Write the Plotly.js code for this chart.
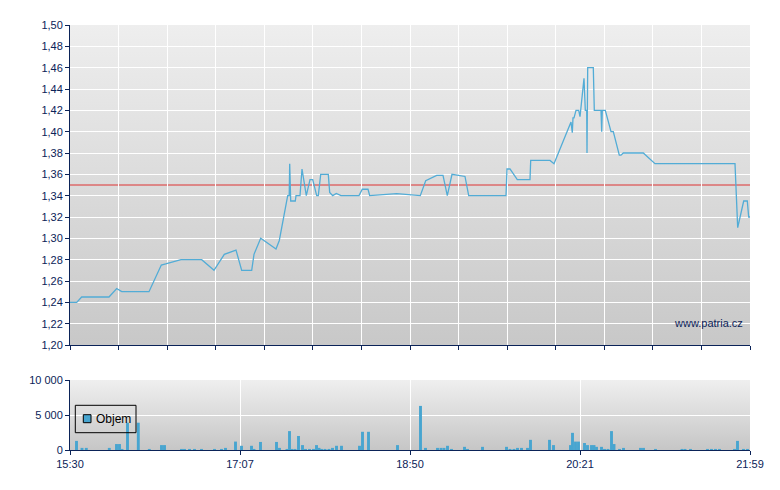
<!DOCTYPE html>
<html>
<head>
<meta charset="utf-8">
<script src="https://cdn.plot.ly/plotly-3.0.1.min.js"></script>
<style>html,body{margin:0;padding:0;background:#fff;}#chart{width:780px;height:490px;}</style>
</head>
<body>
<div id="chart"></div>
<script>
// Time-slot positions (session index, 0 = 15:30 ... 680 = 21:59)
const sessionLabels = ["15:30", "17:07", "18:50", "20:21", "21:59"];
const sessionLabelPos = [0, 170, 340, 510, 680];
const referencePrice = 1.35;
const legendName = "Objem";

const priceX = [0, 6.7, 11.7, 39, 46.7, 51.7, 79, 91.3, 95.7, 111, 131.7, 144, 154.3, 166, 171.7, 181.7, 184, 190.7, 206, 209.3,
  217.7, 219.2, 219.7, 220.7, 225.3, 226, 230, 232, 236.3, 240, 242.7, 246.7, 248.3, 250.7, 258.3, 259.7, 262.7, 266.3, 271,
  289, 292.3, 298, 299.7, 326.7, 350.3, 355.7, 366.7, 373, 377.3, 382, 395, 398.7, 436, 437, 440, 447.3, 460, 460.7, 480, 484,
  501, 502.3, 503, 504, 506, 508.7, 510, 514, 515.3, 516.7, 517, 517.7, 523.3, 524.3, 531, 531.7, 532.3, 535.3, 541, 543.3,
  549.3, 551, 553.3, 573.3, 585, 665, 667.7, 673.7, 677.3, 678.7, 680];
const priceY = [1.240, 1.240, 1.245, 1.245, 1.253, 1.250, 1.250, 1.275, 1.276, 1.280, 1.280, 1.270, 1.285, 1.289, 1.270, 1.270, 1.285, 1.300, 1.290, 1.298,
  1.340, 1.340, 1.370, 1.335, 1.335, 1.340, 1.340, 1.365, 1.340, 1.355, 1.355, 1.340, 1.340, 1.360, 1.360, 1.343, 1.340, 1.342, 1.340,
  1.340, 1.346, 1.346, 1.340, 1.342, 1.340, 1.354, 1.359, 1.359, 1.340, 1.360, 1.358, 1.340, 1.340, 1.365, 1.365, 1.355, 1.355, 1.373, 1.373, 1.370,
  1.409, 1.399, 1.413, 1.413, 1.420, 1.420, 1.414, 1.450, 1.420, 1.420, 1.380, 1.460, 1.460, 1.420, 1.420, 1.400, 1.420, 1.420, 1.400, 1.400,
  1.378, 1.378, 1.380, 1.380, 1.370, 1.370, 1.310, 1.335, 1.335, 1.320, 1.320];

const volumeX = [6.5, 12, 16.3, 39.3, 46.5, 49.5, 52, 57.5, 68.3, 79.3, 91.5, 94.5, 111.5, 114.5, 119.5, 124.5, 131.5, 144.5, 151.5, 155.5,
  165.5, 171.5, 181.5, 184, 190.5, 206.5, 209.5, 217, 219.5, 222, 225, 228.5, 232.5, 235.5, 239.5, 243.5, 246.5, 249, 251.5, 255,
  259, 262.5, 266.5, 271.5, 289.5, 292.5, 298.5, 327.5, 350.5, 355.5, 367.5, 371, 374, 377.5, 381.5, 394.5, 397.5, 412.5, 436.5, 440,
  444, 447.5, 451.5, 457.5, 460.5, 479.5, 483.5, 500.5, 502.5, 505.5, 508.5, 514.5, 517.5, 521.5, 524, 526.5, 531.5, 534.5, 538, 541.5,
  544, 549.5, 553.5, 570.5, 573.5, 585.5, 612, 615, 620.5, 637.5, 641.5, 645.5, 649.5, 664.5, 667.5, 673.5, 677.5];
const volumeY = [1300, 300, 300, 300, 850, 850, 150, 3900, 3900, 150, 700, 700, 150, 150, 150, 150, 150, 150, 150, 300,
  1200, 600, 600, 150, 1150, 1150, 300, 150, 2700, 150, 150, 2000, 700, 150, 150, 150, 700, 300, 150, 150,
  150, 300, 600, 600, 600, 2600, 2600, 700, 6300, 300, 300, 300, 300, 600, 150, 450, 150, 450, 450, 150,
  150, 300, 300, 300, 1450, 1450, 700, 700, 2450, 1200, 1200, 1000, 700, 700, 700, 450, 450, 150, 150, 2700,
  850, 150, 300, 300, 300, 150, 150, 150, 150, 150, 150, 150, 150, 150, 1300, 150, 150];

const navy = '#0b2358';
const lineBlue = '#52acd6';
const barBlue = '#47a5d0';
const fontFam = 'Arial, "Liberation Sans", sans-serif';

const topDomain = [105 / 425, 1];
const volDomain = [0, 70 / 425];

function grad(top, bottom) {
  const svg = '<svg xmlns="http://www.w3.org/2000/svg" width="10" height="100" preserveAspectRatio="none">' +
    '<defs><linearGradient id="g" x1="0" y1="0" x2="0" y2="1"><stop offset="0" stop-color="' + top + '"/>' +
    '<stop offset="1" stop-color="' + bottom + '"/></linearGradient></defs>' +
    '<rect width="10" height="100" fill="url(#g)"/></svg>';
  return 'data:image/svg+xml;utf8,' + encodeURIComponent(svg);
}

const traces = [
  {x: priceX, y: priceY, xaxis: 'x2', yaxis: 'y', type: 'scatter', mode: 'lines',
   line: {color: lineBlue, width: 1.3}, showlegend: false, hoverinfo: 'skip'},
  {x: volumeX, y: volumeY, xaxis: 'x', yaxis: 'y2', type: 'bar', width: 2.9, name: legendName,
   marker: {color: barBlue, line: {width: 0}}, showlegend: false, hoverinfo: 'skip'}
];

const axisCommon = {
  showline: true, linecolor: navy, linewidth: 1, ticks: 'outside', ticklen: 4, tickcolor: navy,
  gridcolor: '#ffffff', gridwidth: 1, zeroline: false, tickfont: {family: fontFam, size: 11, color: navy}, fixedrange: true
};

// legend box geometry (paper coordinates)
const lgX0 = 5.3 / 680, lgX1 = 66 / 680, lgY0 = 17.3 / 425, lgY1 = 44.7 / 425;
const sqX0 = 13.3 / 680, sqX1 = 21 / 680, sqY0 = 27.3 / 425, sqY1 = 35.3 / 425;

const layout = {
  width: 780, height: 490,
  margin: {l: 70, r: 30, t: 25, b: 40, pad: 0},
  paper_bgcolor: '#ffffff', plot_bgcolor: 'rgba(0,0,0,0)',
  separators: ', ',
  font: {family: fontFam, size: 11, color: navy},
  showlegend: false,
  xaxis: Object.assign({}, axisCommon, {domain: [0, 1], anchor: 'y2', range: [0, 680],
    tickmode: 'array', tickvals: sessionLabelPos, ticktext: sessionLabels}),
  xaxis2: Object.assign({}, axisCommon, {domain: [0, 1], anchor: 'y', range: [0, 680],
    tickmode: 'linear', tick0: 0, dtick: 680 / 14, showticklabels: false}),
  yaxis: Object.assign({}, axisCommon, {domain: topDomain, range: [1.2, 1.5], tickmode: 'linear', tick0: 1.2, dtick: 0.02,
    tickformat: '.2f'}),
  yaxis2: Object.assign({}, axisCommon, {domain: volDomain, range: [0, 10000], tickmode: 'array', tickvals: [0, 5000, 10000],
    tickformat: ',.0f'}),
  shapes: [
    {type: 'line', xref: 'x2', yref: 'y', x0: 0, x1: 680, y0: referencePrice, y1: referencePrice,
     line: {color: '#dd3333', width: 1}, layer: 'below'},
    {type: 'rect', xref: 'paper', yref: 'paper', x0: lgX0, x1: lgX1, y0: lgY0, y1: lgY1,
     line: {color: '#000000', width: 1}, fillcolor: 'rgba(0,0,0,0)', layer: 'above'},
    {type: 'rect', xref: 'paper', yref: 'paper', x0: sqX0, x1: sqX1, y0: sqY0, y1: sqY1,
     line: {color: '#000000', width: 1}, fillcolor: barBlue, layer: 'above'}
  ],
  images: [
    {source: grad('#eeeeee', '#c8c8c8'), xref: 'paper', yref: 'paper', x: 0, y: 1, sizex: 1, sizey: 1 - topDomain[0],
     xanchor: 'left', yanchor: 'top', sizing: 'stretch', layer: 'below'},
    {source: grad('#efefef', '#c6c6c6'), xref: 'paper', yref: 'paper', x: 0, y: volDomain[1], sizex: 1, sizey: volDomain[1],
     xanchor: 'left', yanchor: 'top', sizing: 'stretch', layer: 'below'}
  ],
  annotations: [
    {text: 'www.patria.cz', xref: 'paper', yref: 'paper', x: 638 / 680, y: 127 / 425, xanchor: 'center', yanchor: 'middle',
     showarrow: false, font: {family: fontFam, size: 11, color: navy}},
    {text: legendName, xref: 'paper', yref: 'paper', x: 24.3 / 680, y: 31.3 / 425, xanchor: 'left', yanchor: 'middle',
     showarrow: false, font: {family: fontFam, size: 12, color: '#000000'}}
  ]
};

Plotly.newPlot('chart', traces, layout, {displayModeBar: false, staticPlot: true});
</script>
</body>
</html>
